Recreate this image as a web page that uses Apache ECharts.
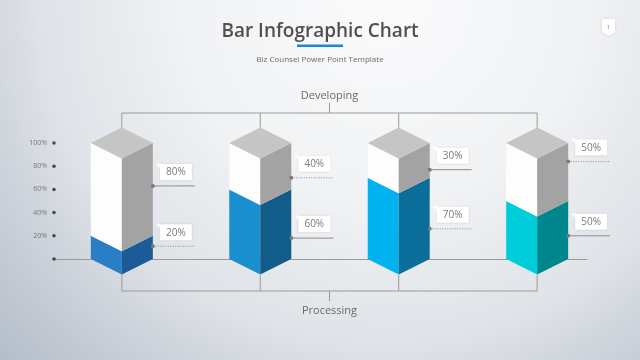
<!DOCTYPE html>
<html>
<head>
<meta charset="utf-8">
<script src="https://cdn.jsdelivr.net/npm/echarts@6/dist/echarts.min.js"></script>
<style>
html,body{margin:0;padding:0;}
#chart{width:640px;height:360px;}
</style>
</head>
<body>
<div id="chart"></div>
<script>
// ---- data ----
const categories = ['Bar 1', 'Bar 2', 'Bar 3', 'Bar 4'];
const processing = [20, 60, 70, 50];
const developing = [80, 40, 30, 50];
const yTicks = [0, 20, 40, 60, 80, 100];
const tickLabels = ['', '20%', '40%', '60%', '80%', '100%'];
const topLabel = 'Developing';
const bottomLabel = 'Processing';

// ---- layout / styles ----
// callout anchor heights, in y-axis units
const upperAnchor = [63, 70, 77, 84];
const lowerAnchor = [11, 18, 26, 20];
const frontColors = ['#2a7ec6', '#1a8fd0', '#00b2ee', '#00cdda'];
const sideColors = ['#1b5b97', '#125c8a', '#0b6e9a', '#00878d'];
const upperDotted = [false, true, false, true];
const lowerDotted = [true, false, true, false];
const FONT = '"Open Sans", Lato, sans-serif';
const xMin = -0.49, xMax = 3.36;

const chart = echarts.init(document.getElementById('chart'), null, {renderer: 'canvas'});

function labelParts(R, ym, value, dotted) {
  const bx = R + 7, bw = 32, bh = 16, by = ym - 6 - bh;
  return [
    {type: 'line', shape: {x1: R, y1: ym, x2: R + 42, y2: ym},
     style: {stroke: '#8c8c8c', lineWidth: 1, lineDash: dotted ? [1, 1.5] : null}},
    {type: 'circle', shape: {cx: R, cy: ym, r: 2}, style: {fill: '#7a7a7a'}},
    {type: 'polygon', shape: {points: [[bx - 4, by - 1], [bx + 1, by], [bx + 1, by + 6]]}, style: {fill: '#ffffff'}},
    {type: 'rect', shape: {x: bx, y: by, width: bw, height: bh},
     style: {fill: '#ffffff', shadowBlur: 2, shadowColor: 'rgba(0,0,0,0.12)'}},
    {type: 'text', style: {text: value + '%', x: bx + bw / 2, y: by + bh / 2 + 0.5, align: 'center', verticalAlign: 'middle',
      font: '10px ' + FONT, fill: '#7a7a7a'}}
  ];
}

function renderItem(params, api) {
  const i = api.value(0);
  const p = api.value(1);
  const dv = api.value(2);
  const base = api.coord([i, 0]);
  const x = base[0], y0 = base[1];
  const yP = api.coord([i, p])[1];
  const yT = api.coord([i, p + dv])[1];
  const W = 31, D = 15.5;
  const L = x - W, R = x + W;
  const n = categories.length;
  const ch = [];
  // lower (processing) segment
  ch.push({type: 'polygon', shape: {points: [[L, y0], [x, y0 + D], [x, yP + D], [L, yP]]}, style: {fill: frontColors[i]}});
  ch.push({type: 'polygon', shape: {points: [[x, y0 + D], [R, y0], [R, yP], [x, yP + D]]}, style: {fill: sideColors[i]}});
  // upper (developing) segment
  ch.push({type: 'polygon', shape: {points: [[L, yP], [x, yP + D], [x, yT + D], [L, yT]]}, style: {fill: '#fdfdfd'}});
  ch.push({type: 'polygon', shape: {points: [[x, yP + D], [R, yP], [R, yT], [x, yT + D]]}, style: {fill: '#a3a3a3'}});
  ch.push({type: 'polygon', shape: {points: [[x, yT - D], [R, yT], [x, yT + D], [L, yT]]}, style: {fill: '#c5c5c5'}});
  // brackets
  const brStroke = {stroke: '#9a9a9a', lineWidth: 1};
  const topY = yT - D - 14.5;
  const botY = y0 + D + 16.5;
  ch.push({type: 'line', shape: {x1: x, y1: yT - D, x2: x, y2: topY}, style: brStroke});
  ch.push({type: 'line', shape: {x1: x, y1: y0 + D, x2: x, y2: botY}, style: brStroke});
  if (i < n - 1) {
    const nx = api.coord([i + 1, 0])[0];
    ch.push({type: 'line', shape: {x1: x, y1: topY, x2: nx, y2: topY}, style: brStroke});
    ch.push({type: 'line', shape: {x1: x, y1: botY, x2: nx, y2: botY}, style: brStroke});
  }
  if (i === 0) {
    const cx = api.coord([(n - 1) / 2, 0])[0];
    ch.push({type: 'line', shape: {x1: cx, y1: topY, x2: cx, y2: topY - 10}, style: brStroke});
    ch.push({type: 'line', shape: {x1: cx, y1: botY, x2: cx, y2: botY + 10}, style: brStroke});
    ch.push({type: 'text', style: {text: topLabel, x: cx, y: topY - 17, align: 'center', verticalAlign: 'middle',
      font: '11px ' + FONT, fill: '#6a6a6a'}});
    ch.push({type: 'text', style: {text: bottomLabel, x: cx, y: botY + 20, align: 'center', verticalAlign: 'middle',
      font: '11px ' + FONT, fill: '#6a6a6a'}});
  }
  // callouts
  const yLo = api.coord([i, lowerAnchor[i]])[1];
  const yUp = api.coord([i, upperAnchor[i]])[1];
  labelParts(R, yLo, p, lowerDotted[i]).forEach(c => ch.push(c));
  labelParts(R, yUp, dv, upperDotted[i]).forEach(c => ch.push(c));
  return {type: 'group', children: ch};
}

const barData = categories.map((c, i) => [i, processing[i], developing[i]]);

chart.setOption({
  backgroundColor: {
    type: 'radial', x: 0.6, y: 0.0, r: 1.6,
    colorStops: [
      {offset: 0, color: '#fbfbfc'},
      {offset: 0.35, color: '#f0f2f4'},
      {offset: 0.6, color: '#dfe2e7'},
      {offset: 0.72, color: '#cdd3db'},
      {offset: 0.85, color: '#bcc4cf'},
      {offset: 1, color: '#a9b3c0'}
    ]
  },
  animation: false,
  title: [
    {text: 'Bar Infographic Chart', left: 'center', top: 17,
     textStyle: {fontSize: 19, color: '#505050', fontFamily: FONT, fontWeight: 600}},
    {text: 'Biz Counsel Power Point Template', left: 'center', top: 51,
     textStyle: {fontSize: 8, color: '#6a6a6a', fontFamily: FONT, fontWeight: 'normal'}}
  ],
  graphic: [
    {type: 'rect', shape: {x: 297, y: 44.5, width: 46, height: 2.5}, style: {fill: '#1a8ad6'}},
    {type: 'polygon', shape: {points: [[602, 19], [615, 19], [615, 32], [608.5, 36], [602, 32]]},
     style: {fill: '#ffffff', shadowBlur: 3, shadowColor: 'rgba(0,0,0,0.12)'}},
    {type: 'text', style: {text: '1', x: 608.5, y: 27, align: 'center', verticalAlign: 'middle', font: '6px ' + FONT, fill: '#888'}}
  ],
  grid: {left: 54, right: 53, top: 143, bottom: 101},
  xAxis: {
    type: 'value', min: xMin, max: xMax,
    axisLine: {show: true, onZero: false, lineStyle: {color: '#9a9a9a', width: 1}},
    axisTick: {show: false}, axisLabel: {show: false}, splitLine: {show: false}
  },
  yAxis: {
    type: 'value', min: 0, max: 100, interval: 20,
    axisLine: {show: false}, axisTick: {show: false}, splitLine: {show: false},
    axisLabel: {
      margin: 7, fontSize: 7, color: '#777777', fontFamily: FONT,
      formatter: function (v) { const k = yTicks.indexOf(v); return k >= 0 ? tickLabels[k] : ''; }
    }
  },
  series: [
    {type: 'scatter', data: yTicks.map(v => [xMin, v]), symbolSize: 3.5, itemStyle: {color: '#222'},
     clip: false, silent: true, z: 3},
    {type: 'custom', data: barData, renderItem: renderItem, clip: false, z: 4}
  ]
});
</script>
</body>
</html>
